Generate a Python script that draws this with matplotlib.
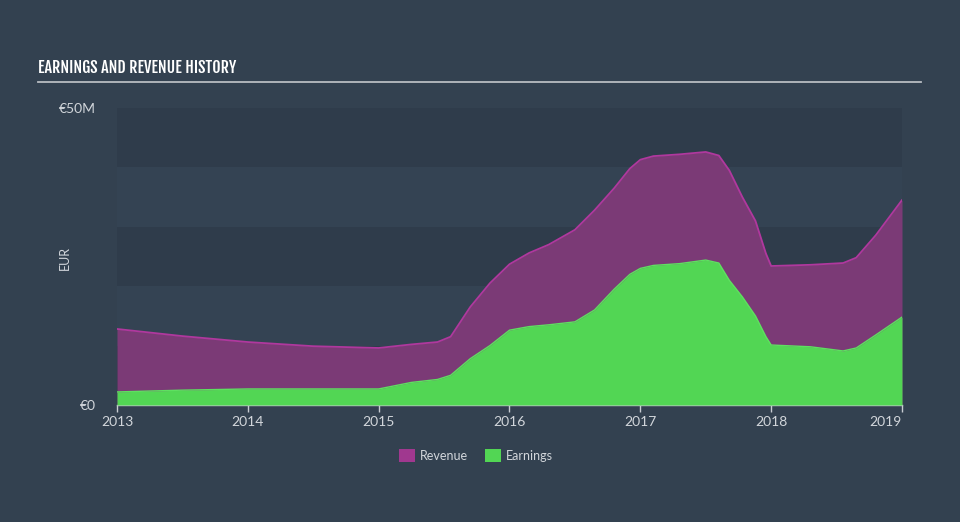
import matplotlib
matplotlib.use("Agg")
import matplotlib.pyplot as plt
from matplotlib.patches import Rectangle

# ---- data (EUR millions) ----
years = [2013.0, 2013.5, 2014.0, 2014.5, 2015.0, 2015.25, 2015.45, 2015.55, 2015.7, 2015.85,
         2016.0, 2016.15, 2016.3, 2016.5, 2016.65, 2016.8, 2016.92, 2017.0, 2017.1, 2017.3,
         2017.5, 2017.6, 2017.68, 2017.78, 2017.88, 2017.96, 2018.0, 2018.3, 2018.55, 2018.65,
         2018.8, 2019.0]
revenue = [12.8, 11.6, 10.6, 9.9, 9.6, 10.2, 10.6, 11.5, 16.5, 20.5,
           23.7, 25.6, 27.0, 29.5, 32.8, 36.5, 39.8, 41.3, 41.9, 42.2,
           42.6, 42.0, 39.5, 35.0, 31.0, 25.5, 23.4, 23.6, 23.9, 24.8,
           28.6, 34.5]
earnings = [2.2, 2.5, 2.7, 2.7, 2.7, 3.8, 4.3, 5.0, 7.8, 10.0,
            12.6, 13.2, 13.5, 14.0, 16.0, 19.5, 22.0, 23.0, 23.5, 23.8,
            24.4, 23.9, 21.0, 18.2, 15.0, 11.5, 10.1, 9.8, 9.1, 9.6,
            11.8, 14.8]
xtick_years = [2013, 2014, 2015, 2016, 2017, 2018, 2019]
ytick_vals = [0, 50]
ytick_labels = ["€0", "€50M"]

# ---- style ----
BG = "#334150"
BAND_DARK = "#2f3c4b"
BAND_LIGHT = "#344353"
REV_FILL = "#7b3a76"
REV_LINE = "#b0389e"
ERN_FILL = "#52d654"
ERN_LINE = "#5ee060"
TXT = "#d2d6db"
FONT = ["Lato", "DejaVu Sans"]

fig = plt.figure(figsize=(9.6, 5.22), dpi=100, facecolor=BG)
ax = fig.add_axes([117/960, 1-405/522, 785/960, 297/522])
ax.set_facecolor(BG)
ax.set_xlim(2013.0, 2019.0)
ax.set_ylim(0, 50)

# background bands
for i in range(5):
    col = BAND_DARK if i % 2 == 0 else BAND_LIGHT
    ax.axhspan(i*10, (i+1)*10, color=col, lw=0, zorder=0)

ax.fill_between(years, 0, revenue, color=REV_FILL, lw=0, zorder=2)
ax.plot(years, revenue, color=REV_LINE, lw=1.3, zorder=3)
ax.fill_between(years, 0, earnings, color=ERN_FILL, lw=0, zorder=4)
ax.plot(years, earnings, color=ERN_LINE, lw=1.0, zorder=5)

for s in ["top", "right", "left"]:
    ax.spines[s].set_visible(False)
ax.spines["bottom"].set_color("#c8ccd2")
ax.spines["bottom"].set_linewidth(1.0)

ax.set_xticks(xtick_years)
ax.set_xticklabels([str(y) for y in xtick_years], fontfamily=FONT, fontsize=10, color=TXT)
ax.tick_params(axis="x", colors="#c8ccd2", length=5, width=1, pad=3, labelcolor=TXT)
ax.get_xticklabels()[-1].set_ha("right")

ax.set_yticks(ytick_vals)
ax.set_yticklabels(ytick_labels, fontfamily=FONT, fontsize=10, color=TXT)
ax.tick_params(axis="y", length=0, pad=15, labelcolor=TXT)

fig.text(65/960, 1-258/522, "EUR", rotation=90, ha="center", va="center",
         fontfamily=FONT, fontsize=9, color=TXT)

# title
fig.text(38/960, 1-68/522, "EARNINGS AND REVENUE HISTORY", ha="left", va="center",
         fontfamily=["Fjalla One", "DejaVu Sans"], fontsize=11.5, color="#ffffff")
fig.add_artist(plt.Line2D([38/960, 921/960], [1-82/522, 1-82/522], color="#b8bcc2", lw=1.3,
                          transform=fig.transFigure))

# legend
fig.patches.append(Rectangle((399/960, 1-462/522), 16/960, 13/522, transform=fig.transFigure,
                             facecolor="#a0388f", edgecolor="none"))
fig.text(420/960, 1-456/522, "Revenue", ha="left", va="center", fontfamily=FONT,
         fontsize=9, color=TXT)
fig.patches.append(Rectangle((485/960, 1-462/522), 16/960, 13/522, transform=fig.transFigure,
                             facecolor=ERN_FILL, edgecolor="none"))
fig.text(506/960, 1-456/522, "Earnings", ha="left", va="center", fontfamily=FONT,
         fontsize=9, color=TXT)

fig.savefig("out.png", dpi=100, facecolor=BG)
